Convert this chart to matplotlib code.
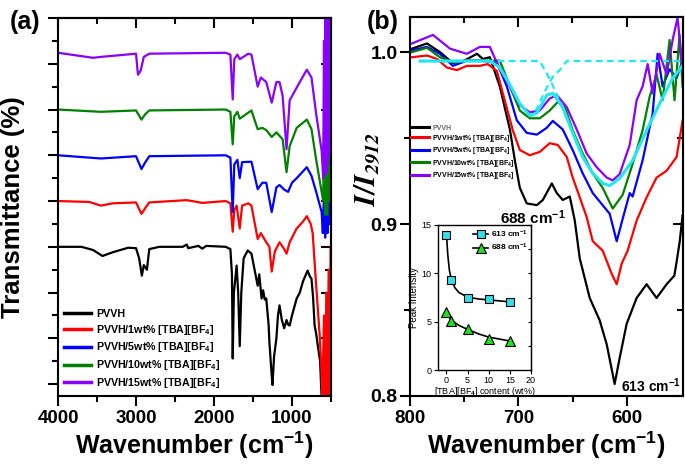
import numpy as np
import matplotlib
matplotlib.use('Agg')
import matplotlib.pyplot as plt
from matplotlib.lines import Line2D

plt.rcParams['font.family'] = ['Liberation Sans', 'DejaVu Sans']
plt.rcParams['font.weight'] = 'bold'
plt.rcParams['axes.labelweight'] = 'bold'
plt.rcParams['mathtext.fontset'] = 'custom'
plt.rcParams['mathtext.rm'] = 'Liberation Sans:bold'
plt.rcParams['mathtext.it'] = 'Liberation Sans:italic:bold'
plt.rcParams['mathtext.bf'] = 'Liberation Sans:bold'
plt.rcParams['mathtext.default'] = 'rm'

labels = ['PVVH', 'PVVH/1wt% [TBA][BF$_4$]', 'PVVH/5wt% [TBA][BF$_4$]',
          'PVVH/10wt% [TBA][BF$_4$]', 'PVVH/15wt% [TBA][BF$_4$]']
colors = ['black', '#ff0000', '#0000ff', '#008000', '#8800ff']

# ---- panel (a): FTIR, offset transmittance (wavenumber, value)
a_black = [(4000, 3.0), (3700, 3.0), (3550, 2.93), (3430, 2.80), (3300, 2.88), (3100, 2.98),
           (3000, 2.97), (2960, 2.75), (2925, 2.37), (2900, 2.6), (2860, 2.5), (2830, 2.95),
           (2700, 3.0), (2400, 3.0), (2350, 3.05), (2330, 2.97), (2200, 3.02), (2150, 2.96),
           (2100, 3.02), (1850, 3.0), (1790, 2.95), (1770, 2.4), (1760, 0.56), (1745, 2.0),
           (1710, 2.59), (1690, 2.0), (1670, 0.83), (1650, 2.0), (1620, 2.75), (1567, 2.92),
           (1520, 2.85), (1480, 2.5), (1440, 2.15), (1420, 2.4), (1390, 1.87), (1370, 2.05),
           (1350, 1.85), (1330, 1.87), (1300, 1.3), (1290, 0.93), (1265, 0.3), (1250, -0.02),
           (1230, 0.6), (1200, 1.0), (1180, 1.5), (1160, 1.72), (1130, 1.4), (1100, 1.22),
           (1070, 1.4), (1050, 1.3), (1030, 1.28), (1000, 1.5), (940, 1.87), (900, 2.0),
           (860, 2.24), (820, 2.4), (800, 2.48), (770, 2.35), (750, 2.3), (730, 1.9),
           (710, 1.28), (690, 1.1), (670, 0.85), (640, 0.5), (620, -0.3), (600, 0.5),
           (585, -0.3), (570, 0.8), (555, -0.3), (540, 1.0), (525, -0.3), (510, 2.5), (500, -0.3)]
a_red = [(4000, 4.0), (3600, 3.98), (3450, 3.9), (3300, 3.95), (3000, 3.97), (2930, 3.72),
         (2880, 3.85), (2830, 3.97), (2350, 4.02), (2150, 3.96), (1850, 4.0), (1790, 3.95),
         (1760, 3.33), (1740, 3.8), (1710, 3.9), (1670, 3.4), (1640, 3.9), (1560, 3.95),
         (1520, 3.9), (1440, 3.17), (1400, 3.3), (1330, 3.1), (1290, 3.0), (1260, 2.46),
         (1220, 2.9), (1160, 3.1), (1100, 2.95), (1070, 2.85), (1030, 3.1), (940, 3.4),
         (860, 3.55), (810, 3.67), (760, 3.5), (735, 3.3), (700, 2.4), (645, 1.07),
         (625, 0.4), (610, -0.3), (590, 1.5), (575, -0.3), (560, 2.0), (545, -0.3),
         (530, 2.5), (515, -0.3), (505, 3.0)]
a_blue = [(4000, 5.0), (3450, 4.93), (3000, 4.98), (2930, 4.7), (2880, 4.85), (2830, 4.98),
          (1850, 5.0), (1790, 4.95), (1760, 3.76), (1740, 4.8), (1700, 4.9), (1670, 4.5),
          (1640, 4.85), (1520, 4.86), (1440, 4.26), (1380, 4.4), (1330, 4.4), (1260, 3.76),
          (1200, 4.3), (1160, 4.35), (1100, 4.25), (1050, 4.2), (1000, 4.4), (940, 4.5),
          (810, 4.74), (750, 4.55), (690, 4.2), (620, 3.76), (605, 3.3), (590, 4.2),
          (575, 3.2), (560, 4.5), (545, 3.3), (530, 4.7), (510, 3.5)]
a_green = [(4000, 6.0), (3450, 5.95), (3000, 5.98), (2930, 5.78), (2880, 5.9), (2830, 5.98),
           (1850, 6.0), (1790, 5.95), (1760, 5.24), (1740, 5.85), (1700, 5.95), (1670, 5.8),
           (1520, 5.98), (1440, 5.57), (1380, 5.6), (1330, 5.55), (1260, 5.4), (1200, 5.5),
           (1120, 5.35), (1070, 4.63), (1030, 5.2), (940, 5.6), (810, 5.78), (750, 5.57),
           (690, 4.9), (620, 4.2), (600, 4.0), (590, 5.5), (575, 3.7), (560, 6.0),
           (545, 3.7), (530, 5.8), (515, 4.0), (505, 6.1)]
a_purple = [(4000, 7.24), (3550, 7.13), (3450, 7.15), (3000, 7.22), (2975, 6.76), (2940, 6.85),
            (2900, 7.15), (2830, 7.22), (1850, 7.24), (1790, 7.2), (1760, 6.22), (1740, 7.1),
            (1700, 7.2), (1670, 7.1), (1560, 7.22), (1520, 7.2), (1440, 6.5), (1400, 6.7),
            (1330, 6.6), (1260, 6.15), (1200, 6.6), (1160, 6.6), (1120, 6.3), (1070, 5.13),
            (1030, 6.2), (900, 6.6), (810, 6.87), (750, 6.7), (690, 5.9), (620, 5.1),
            (600, 4.5), (590, 7.5), (580, 4.6), (570, 8.2), (560, 4.6), (550, 8.2),
            (540, 4.8), (530, 8.3), (520, 5.0), (510, 8.3)]

# ---- panel (b): normalised spectra I/I2912 (wavenumber, value)
b_black = [(798.2, 1.002), (784.3, 1.005), (772.4, 1.000), (760.4, 0.9936), (750, 0.995),
           (738.2, 0.999), (732.7, 0.996), (726.3, 0.997), (717.1, 0.98), (707.8, 0.955),
           (703.2, 0.937), (698.6, 0.921), (692.2, 0.912), (682.9, 0.911), (677.4, 0.914),
           (669.1, 0.9236), (664.5, 0.918), (659.0, 0.914), (652.5, 0.916), (647.9, 0.902),
           (643.3, 0.880), (634.1, 0.857), (624.9, 0.844), (618.4, 0.830), (611.1, 0.807),
           (606.5, 0.822), (600.0, 0.842), (590.8, 0.857), (581.6, 0.865), (572.4, 0.857),
           (563.1, 0.865), (556, 0.87), (553.9, 0.878), (551, 0.89), (548.4, 0.905)]
b_red = [(798.2, 0.997), (784.3, 0.998), (775.1, 0.996), (765.9, 0.991), (756.7, 0.9895),
         (747.5, 0.992), (735.5, 0.992), (728.1, 0.993), (719.8, 0.989), (714.3, 0.976),
         (705.1, 0.9545), (698.6, 0.943), (689.4, 0.940), (680.2, 0.942), (671.0, 0.947),
         (663.6, 0.946), (655.3, 0.939), (649.8, 0.927), (643.3, 0.9155), (636.9, 0.904),
         (631.3, 0.890), (622.1, 0.8845), (613.8, 0.871), (609.2, 0.865), (604.6, 0.877),
         (599.1, 0.8845), (590.8, 0.902), (581.6, 0.9155), (572.4, 0.927), (563.1, 0.931),
         (553.9, 0.939), (548.4, 0.96)]
b_blue = [(798.2, 1.001), (784.3, 1.003), (772.4, 0.999), (760.4, 0.992), (747.5, 0.995),
          (735.5, 0.995), (719.8, 0.994), (710.6, 0.98), (701.4, 0.9603), (692.2, 0.953),
          (682.9, 0.952), (673.7, 0.956), (668.2, 0.960), (659.0, 0.955), (649.8, 0.943),
          (640.6, 0.9295), (631.3, 0.918), (615.7, 0.906), (609.2, 0.89), (603.7, 0.903),
          (597.2, 0.918), (594.5, 0.916), (585.3, 0.937), (576.0, 0.9644), (571.4, 0.999),
          (566.8, 0.98), (560.4, 0.99), (553.9, 0.985), (548.4, 0.995)]
b_green = [(798.2, 1.0), (784.3, 1.0025), (772.4, 0.997), (760.4, 0.994), (747.5, 0.995),
           (726.3, 0.995), (717.1, 0.995), (707.8, 0.98), (698.6, 0.966), (689.4, 0.9615),
           (680.2, 0.9615), (671.0, 0.966), (663.6, 0.971), (657.1, 0.968), (649.8, 0.9545),
           (640.6, 0.941), (631.3, 0.9295), (622.1, 0.921), (612.9, 0.909), (603.7, 0.917),
           (594.5, 0.935), (585.3, 0.9545), (578.8, 0.974), (572.4, 0.987), (566.8, 0.972),
           (560.4, 1.007), (555.8, 0.972), (551.2, 1.01), (548.4, 0.98)]
b_purple = [(798.2, 1.005), (778.8, 1.010), (763.1, 1.002), (747.5, 0.999), (735.5, 1.003),
            (726.3, 1.003), (717.1, 0.99), (707.8, 0.98), (698.6, 0.969), (689.4, 0.965),
            (680.2, 0.966), (671.0, 0.973), (664.5, 0.975), (655.3, 0.968), (646.1, 0.955),
            (636.9, 0.941), (627.6, 0.933), (618.4, 0.927), (612.9, 0.9254), (606.5, 0.929),
            (597.2, 0.946), (590.8, 0.972), (585.3, 0.98), (580.6, 0.993), (576.0, 0.976),
            (569.6, 0.999), (563.1, 0.987), (557.6, 1.007), (553.0, 1.02), (548.4, 0.99)]

# gaussian fit lines
fit_total = [(790.8, 0.9948), (726.3, 0.9948), (717.1, 0.991), (707.8, 0.981), (698.6, 0.970),
             (689.4, 0.963), (682.9, 0.9645), (673.7, 0.975), (668.2, 0.976), (659.0, 0.968),
             (649.8, 0.953), (640.6, 0.939), (631.3, 0.9295), (622.1, 0.9236), (615.7, 0.9224),
             (606.5, 0.9265), (594.5, 0.937), (581.6, 0.9545), (569.6, 0.970), (557.6, 0.9848),
             (548.4, 0.992)]
fit_613 = [(790.8, 0.9948), (680.2, 0.9948), (673.0, 0.9866), (668.2, 0.9806), (664.5, 0.975),
           (659.0, 0.967), (649.8, 0.953), (640.6, 0.939), (631.3, 0.9295), (622.1, 0.9236),
           (615.7, 0.9224), (606.5, 0.9265), (594.5, 0.937), (581.6, 0.9545), (569.6, 0.970),
           (557.6, 0.9848), (548.4, 0.992)]
fit_688 = [(790.8, 0.9948), (726.3, 0.9948), (717.1, 0.991), (707.8, 0.981), (698.6, 0.970),
           (689.4, 0.9635), (682.9, 0.967), (677.9, 0.974), (673.3, 0.9798), (668.2, 0.9856),
           (661.7, 0.9896), (655.3, 0.9948), (548.4, 0.9948)]

# ---- inset: peak intensity vs content
content = [0, 1, 5, 10, 15]
peak613 = [14.0, 9.3, 7.5, 7.3, 7.0]
peak688 = [6.0, 5.1, 4.2, 3.2, 3.0]
curve613 = [(0, 14.0), (0.3, 12.0), (0.7, 10.3), (1.2, 9.3), (2, 8.5), (3, 8.0), (5, 7.55),
            (7.5, 7.35), (10, 7.25), (15, 7.05)]
curve688 = [(0, 6.0), (1, 5.2), (3, 4.6), (5, 4.2), (7.5, 3.75), (10, 3.4), (12.5, 3.2),
            (15, 3.0)]


def xy(pts):
    a = np.array(pts)
    return a[:, 0], a[:, 1]


def mirror_ticks(ax, xmaj, xmin, ymaj, ymin):
    # Origin style: outward ticks on bottom/left, inward on top/right
    ax.tick_params(which='both', direction='out', width=1.5)
    ax.tick_params(which='major', length=7)
    ax.tick_params(which='minor', length=4)
    top = ax.secondary_xaxis('top')
    top.set_xticks(xmaj)
    top.set_xticks(xmin, minor=True)
    top.tick_params(which='both', direction='in', labeltop=False, width=1.5)
    top.tick_params(which='major', length=7)
    top.tick_params(which='minor', length=4)
    right = ax.secondary_yaxis('right')
    right.set_yticks(ymaj)
    right.set_yticks(ymin, minor=True)
    right.tick_params(which='both', direction='in', labelright=False, width=1.5)
    right.tick_params(which='major', length=7)
    right.tick_params(which='minor', length=4)
    for s in list(top.spines.values()) + list(right.spines.values()):
        s.set_linewidth(1.5)


fig = plt.figure(figsize=(6.85, 4.66), dpi=100)

# ---------------- (a)
ax1 = fig.add_axes([58/685, 70/466, 273/685, 378/466])
for pts, c, lab in zip([a_black, a_red, a_blue, a_green, a_purple], colors, labels):
    x, y = xy(pts)
    ax1.plot(x, y, color=c, lw=1.6, label=lab)
ax1.set_xlim(4000, 500)
ax1.set_ylim(-0.26, 8.0)
ax1.set_xticks([4000, 3000, 2000, 1000])
ax1.set_xticks([3500, 2500, 1500, 500], minor=True)
ax1.set_yticks(range(0, 9))
ax1.set_yticks(np.arange(0.5, 8, 1.0), minor=True)
ax1.set_yticklabels([])
for s in ax1.spines.values():
    s.set_linewidth(1.5)
mirror_ticks(ax1, [4000, 3000, 2000, 1000], [3500, 2500, 1500, 500],
             list(range(0, 9)), list(np.arange(0.5, 8, 1.0)))
ax1.tick_params(axis='x', labelsize=13.5, pad=3)
ax1.set_xlabel('Wavenumber (cm$^{-1}$)', fontsize=18, labelpad=2)
ax1.set_ylabel('Transmittance (%)', fontsize=18.5, labelpad=13)
leg = ax1.legend(loc='lower left', bbox_to_anchor=(0.0, 0.0), frameon=False,
                 prop={'size': 7.7, 'weight': 'bold'}, handlelength=2.5,
                 handletextpad=0.5, labelspacing=0.36, borderaxespad=0.3, borderpad=0.25)
for h in leg.get_lines():
    h.set_linewidth(2.5)
fig.text(25/685, 1 - 22/466, '(a)', fontsize=18, ha='center', va='center')

# ---------------- (b)
ax2 = fig.add_axes([410/685, 70/466, 273/685, 379/466])
for pts, c, lab in zip([b_black, b_red, b_blue, b_green, b_purple], colors, labels):
    x, y = xy(pts)
    ax2.plot(x, y, color=c, lw=1.6, label=lab)
x, y = xy(fit_613)
ax2.plot(x, y, color='#22e6f0', lw=1.6, ls=(0, (3, 2)))
x, y = xy(fit_688)
ax2.plot(x, y, color='#22e6f0', lw=1.6, ls=(0, (3, 2)))
x, y = xy(fit_total)
ax2.plot(x, y, color='#22e6f0', lw=2.2)
ax2.set_xlim(800, 548)
ax2.set_ylim(0.8, 1.0204)
ax2.set_xticks([800, 700, 600])
ax2.set_xticks([750, 650], minor=True)
ax2.set_yticks([0.8, 0.9, 1.0])
ax2.set_yticks([0.85, 0.95], minor=True)
for s in ax2.spines.values():
    s.set_linewidth(1.5)
mirror_ticks(ax2, [800, 700, 600], [750, 650], [0.8, 0.9, 1.0], [0.85, 0.95])
ax2.tick_params(axis='x', labelsize=13.5, pad=3)
ax2.tick_params(axis='y', labelsize=14, pad=2)
ax2.set_xlabel('Wavenumber (cm$^{-1}$)', fontsize=18, labelpad=2)
ax2.set_ylabel('$\\mathbfit{I/I_{2912}}$', fontsize=21, math_fontfamily='stix')
ax2.yaxis.set_label_coords(-0.1, 0.6)
leg2 = ax2.legend(loc='upper left', bbox_to_anchor=(0.0, 0.72), frameon=False,
                  prop={'size': 5, 'weight': 'bold'}, handlelength=2.6,
                  handletextpad=0.4, labelspacing=0.2, borderaxespad=0.1, borderpad=0.1)
for h in leg2.get_lines():
    h.set_linewidth(2.2)
leg2.get_texts()[0].set_color('#666666')
ax2.text(686.6, 0.9038, '688 cm$^{-1}$', fontsize=11, ha='center', va='center')
ax2.text(605.5, 0.8058, '613 cm$^{-1}$', fontsize=10, ha='left', va='center')
fig.text(383/685, 1 - 22/466, '(b)', fontsize=18, ha='center', va='center')

# ---------------- inset
ax3 = fig.add_axes([438/685, 96/466, 93/685, 145/466])
x, y = xy(curve613)
ax3.plot(x, y, color='black', lw=1.2)
x, y = xy(curve688)
ax3.plot(x, y, color='black', lw=1.2)
ax3.plot(content, peak613, ls='none', marker='s', ms=6, mfc='#33ddea', mec='black', mew=0.8)
ax3.plot(content, peak688, ls='none', marker='^', ms=7.5, mfc='#22dd22', mec='black', mew=0.8)
ax3.set_xlim(-2, 20)
ax3.set_ylim(0, 15)
ax3.set_xticks([0, 5, 10, 15, 20])
ax3.set_yticks([0, 5, 10, 15])
for s in ax3.spines.values():
    s.set_linewidth(1.0)
ax3.tick_params(which='both', labelsize=6.5, width=0.8, length=3, pad=1.5)
for t in ax3.get_xticklabels() + ax3.get_yticklabels():
    t.set_fontweight('normal')
r3 = ax3.secondary_yaxis('right')
r3.set_yticks([0, 5, 10, 15])
r3.set_yticks([2.5, 7.5, 12.5], minor=True)
r3.tick_params(which='both', direction='in', labelright=False, width=0.8, length=2.5)
ax3.set_ylabel('Peak Intensity', fontsize=7, fontweight='normal', labelpad=2)
ax3.set_xlabel('[TBA][BF$_4$] content (wt%)', fontsize=6.5, fontweight='normal', labelpad=0)
hs = [Line2D([], [], color='black', lw=1.2, marker='s', ms=6, mfc='#33ddea', mec='black', mew=0.8),
      Line2D([], [], color='black', lw=1.2, marker='^', ms=7, mfc='#22dd22', mec='black', mew=0.8)]
ax3.legend(hs, ['613 cm$^{-1}$', '688 cm$^{-1}$'], loc='upper right', frameon=False,
           prop={'size': 6}, handlelength=1.8, handletextpad=0.3, labelspacing=0.3,
           borderaxespad=0.2, borderpad=0.2)

fig.savefig('out.png', dpi=100)
